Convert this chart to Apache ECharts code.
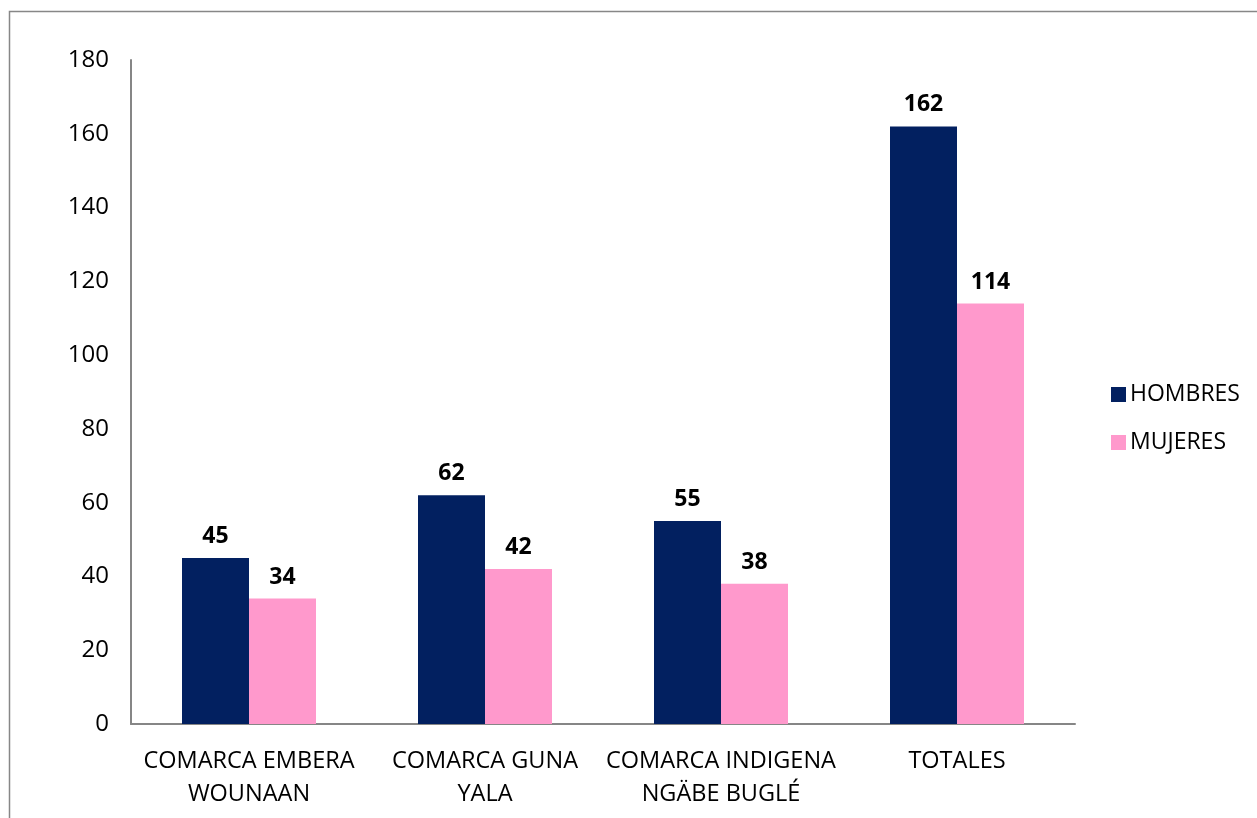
<!DOCTYPE html>
<html>
<head>
<meta charset="utf-8">
<script src="https://cdn.jsdelivr.net/npm/echarts@6/dist/echarts.min.js"></script>
<style>
html,body{margin:0;padding:0;background:#fff;}
#chart{width:1257px;height:818px;}
</style>
</head>
<body>
<div id="chart"></div>
<script>
const categories = ['COMARCA EMBERA\nWOUNAAN', 'COMARCA GUNA\nYALA', 'COMARCA INDIGENA\nNGÄBE BUGLÉ', 'TOTALES'];
const hombres = [45, 62, 55, 162];
const mujeres = [34, 42, 38, 114];
const seriesNames = ['HOMBRES', 'MUJERES'];
const yTicks = {min: 0, max: 180, interval: 20};

const font = '"Open Sans", "Liberation Sans", sans-serif';
const chart = echarts.init(document.getElementById('chart'));
chart.setOption({
  animation: false,
  backgroundColor: '#ffffff',
  textStyle: {fontFamily: font},
  graphic: [{
    type: 'rect',
    shape: {x: 9.5, y: 11.5, width: 1400, height: 1000},
    style: {fill: 'none', stroke: '#878787', lineWidth: 1.5},
    silent: true, z: -1
  }],
  grid: {left: 131, right: 182, top: 60, bottom: 94, containLabel: false},
  legend: {
    orient: 'vertical',
    left: 1106, top: 378,
    itemWidth: 15, itemHeight: 15, itemGap: 25,
    icon: 'rect',
    textStyle: {fontSize: 23, color: '#000', fontFamily: font, padding: [0,0,0,-1]},
    data: seriesNames
  },
  xAxis: {
    type: 'category',
    data: categories,
    axisLine: {lineStyle: {color: '#868686', width: 2}},
    axisTick: {show: false},
    axisLabel: {color: '#000', fontSize: 23.5, lineHeight: 33, margin: 21, fontFamily: font, interval: 0}
  },
  yAxis: {
    type: 'value',
    min: yTicks.min, max: yTicks.max, interval: yTicks.interval,
    axisLine: {show: true, lineStyle: {color: '#868686', width: 2}},
    axisTick: {show: false},
    splitLine: {show: false},
    axisLabel: {color: '#000', fontSize: 24, margin: 22, fontFamily: font}
  },
  series: [
    {
      name: seriesNames[0], type: 'bar', data: hombres, barWidth: 67, barGap: '0%',
      itemStyle: {color: '#022060'},
      label: {show: true, position: 'top', distance: 10, color: '#000', fontWeight: 'bold', fontSize: 23, fontFamily: font}
    },
    {
      name: seriesNames[1], type: 'bar', data: mujeres, barWidth: 67,
      itemStyle: {color: '#FF99CC'},
      label: {show: true, position: 'top', distance: 10, color: '#000', fontWeight: 'bold', fontSize: 23, fontFamily: font}
    }
  ]
});
</script>
</body>
</html>
